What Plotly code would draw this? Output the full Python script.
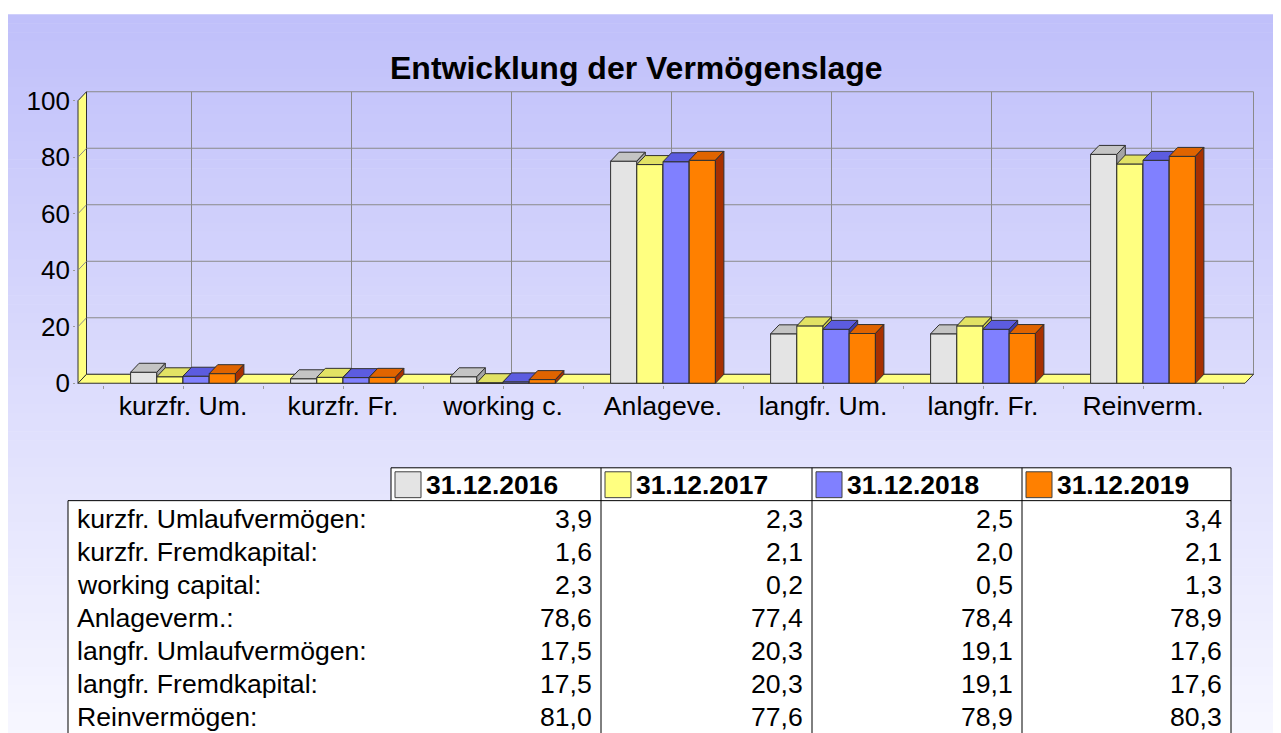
import plotly.graph_objects as go

# ---------------- data ----------------
categories = ["kurzfr. Um.", "kurzfr. Fr.", "working c.", "Anlageve.",
              "langfr. Um.", "langfr. Fr.", "Reinverm."]
row_labels = ["kurzfr. Umlaufvermögen:", "kurzfr. Fremdkapital:", "working capital:",
              "Anlageverm.:", "langfr. Umlaufvermögen:", "langfr. Fremdkapital:",
              "Reinvermögen:"]
series_names = ["31.12.2016", "31.12.2017", "31.12.2018", "31.12.2019"]
v2016 = [3.9, 1.6, 2.3, 78.6, 17.5, 17.5, 81.0]
v2017 = [2.3, 2.1, 0.2, 77.4, 20.3, 20.3, 77.6]
v2018 = [2.5, 2.0, 0.5, 78.4, 19.1, 19.1, 78.9]
v2019 = [3.4, 2.1, 1.3, 78.9, 17.6, 17.6, 80.3]
y_ticks = [0, 20, 40, 60, 80, 100]
title = "Entwicklung der Vermögenslage"

series_values = [v2016, v2017, v2018, v2019]
# (front, top, side) colours per series
series_colors = [
    ("#e4e4e4", "#c4c4c4", "#a4a4a4"),
    ("#ffff80", "#e2e264", "#c4c448"),
    ("#8080ff", "#5c5ce0", "#3c3cb4"),
    ("#ff8000", "#e06400", "#a83000"),
]

# ---------------- geometry ----------------
# positions below are given in target-image pixels; K maps them to page pixels
PAGE_W, PAGE_H = 1281, 733
K = 0.982
OX, OY = 8, 8                      # default page body margin
W = PAGE_W - OX + 16
H = int(round(PAGE_H / K)) - OY + 1
FONT = "Liberation Sans, Arial, sans-serif"
CX0, CPX = 183.0, 160.0      # px of category 0, px per category
Y0PX, YPX = 381.0, 2.84      # px of y=0, px per unit
DX = 8.5 / CPX               # 3D depth in data units
DY = 9.0 / YPX
X_MIN = (78 - CX0) / CPX
X_FRONT_MAX = (1245 - CX0) / CPX
Y_TOP = 100.0
BAR_W = 26.2 / CPX
GROUP_W = BAR_W * len(series_values)

xa, xb = X_MIN - 0.012, X_FRONT_MAX + DX + 0.012
ya, yb = -0.6, Y_TOP + DY + 0.6


def xpx(x):
    return CX0 + CPX * x


def ypx(y):
    return Y0PX - YPX * y


def fx(px):
    return (px - OX) / W


def fy(py):
    return 1 - (py / K - OY) / H


x_domain = [fx(xpx(xa)), fx(xpx(xb))]
y_domain = [fy(ypx(ya)), fy(ypx(yb))]

fig = go.Figure()


def poly(xs, ys, fill, line="#303030", width=1):
    fig.add_trace(go.Scatter(
        x=list(xs) + [xs[0]], y=list(ys) + [ys[0]], mode="lines",
        fill="toself", fillcolor=fill, line=dict(color=line, width=width),
        hoverinfo="skip", showlegend=False))


def lines(segs, color="#8a8a8a", width=1):
    xs, ys = [], []
    for (x1, y1, x2, y2) in segs:
        xs += [x1, x2, None]
        ys += [y1, y2, None]
    fig.add_trace(go.Scatter(x=xs, y=ys, mode="lines",
                             line=dict(color=color, width=width),
                             hoverinfo="skip", showlegend=False))


# back wall grid
segs = []
for v in y_ticks:
    segs.append((X_MIN + DX, v + DY, X_FRONT_MAX + DX, v + DY))
for i in range(len(categories)):
    segs.append((i + DX, DY, i + DX, Y_TOP + DY))
segs.append((X_FRONT_MAX + DX, DY, X_FRONT_MAX + DX, Y_TOP + DY))
lines(segs)

# left wall
poly([X_MIN, X_MIN, X_MIN + DX, X_MIN + DX], [0, Y_TOP, Y_TOP + DY, DY], "#ffff80")
lines([(X_MIN, v, X_MIN + DX, v + DY) for v in y_ticks[1:-1]], color="#8a8a8a")
# floor
poly([X_MIN, X_FRONT_MAX, X_FRONT_MAX + DX, X_MIN + DX], [0, 0, DY, DY], "#ffff80")

# bars (painter's order, left to right)
for i in range(len(categories)):
    for j, vals in enumerate(series_values):
        h = vals[i]
        front, top, side = series_colors[j]
        x0 = i - GROUP_W / 2 + j * BAR_W
        x1 = x0 + BAR_W
        poly([x0, x1, x1, x0], [0, 0, h, h], front)
        poly([x0, x1, x1 + DX, x0 + DX], [h, h, h + DY, h + DY], top)
        poly([x1, x1 + DX, x1 + DX, x1], [0, DY, h + DY, h], side)

# ---------------- background gradient ----------------
shapes = []
top_c = (192, 192, 250)
bot_c = (247, 247, 255)
N = 80
y_start = 10
for k in range(N):
    t = k / (N - 1)
    c = tuple(round(top_c[m] + (bot_c[m] - top_c[m]) * t) for m in range(3))
    py0 = y_start + (PAGE_H + 6 - y_start) * k / N
    py1 = y_start + (PAGE_H + 6 - y_start) * (k + 1) / N + 0.6
    shapes.append(dict(type="rect", xref="paper", yref="paper",
                       x0=0, x1=1, y0=max(0, fy(py1)), y1=min(1, fy(py0)),
                       fillcolor="rgb(%d,%d,%d)" % c, line=dict(width=0),
                       layer="below"))

# ---------------- table ----------------
annotations = []


def hline(px0, px1, py):
    shapes.append(dict(type="line", xref="paper", yref="paper",
                       x0=fx(px0), x1=fx(px1), y0=fy(py), y1=fy(py),
                       line=dict(color="#000000", width=1)))


def vline(px, py0, py1):
    shapes.append(dict(type="line", xref="paper", yref="paper",
                       x0=fx(px), x1=fx(px), y0=fy(py0), y1=max(0, fy(py1)),
                       line=dict(color="#000000", width=1)))


col_edges = [391, 601, 812, 1022, 1231]
head_top, head_bot = 466, 499
table_left = 68
row_y0, row_h = 517, 33.3
BODY_FS = 26.6

# table background (white)
shapes.append(dict(type="rect", xref="paper", yref="paper",
                   x0=fx(391), x1=fx(1231), y0=fy(head_bot), y1=fy(head_top),
                   fillcolor="#ffffff", line=dict(width=0), layer="below"))
shapes.append(dict(type="rect", xref="paper", yref="paper",
                   x0=fx(table_left), x1=fx(1231), y0=0, y1=fy(head_bot),
                   fillcolor="#ffffff", line=dict(width=0), layer="below"))

hline(col_edges[0], col_edges[-1], head_top)
hline(table_left, col_edges[-1], head_bot)
vline(col_edges[0], head_top, head_bot)
for e in col_edges[1:]:
    vline(e, head_top, PAGE_H + 20)
vline(table_left, head_bot, PAGE_H + 20)

for j, name in enumerate(series_names):
    cx = col_edges[j]
    front = series_colors[j][0]
    shapes.append(dict(type="rect", xref="paper", yref="paper",
                       x0=fx(cx + 4), x1=fx(cx + 30),
                       y0=fy(496), y1=fy(470),
                       fillcolor=front, line=dict(color="#404040", width=1)))
    annotations.append(dict(text="<b>%s</b>" % name, x=fx(cx + 33), y=fy(483),
                            xref="paper", yref="paper",
                            xanchor="left", yanchor="middle", showarrow=False,
                            font=dict(family=FONT, size=26.4, color="#000000")))

for r, lab in enumerate(row_labels):
    py = row_y0 + r * row_h
    annotations.append(dict(text=lab, x=fx(75), y=fy(py), xref="paper", yref="paper",
                            xanchor="left", yanchor="middle", showarrow=False,
                            font=dict(family=FONT, size=BODY_FS, color="#000000")))
    for j, vals in enumerate(series_values):
        annotations.append(dict(text=("%.1f" % vals[r]).replace(".", ","),
                                x=fx(col_edges[j + 1] - 7), y=fy(py),
                                xref="paper", yref="paper",
                                xanchor="right", yanchor="middle", showarrow=False,
                                font=dict(family=FONT, size=BODY_FS, color="#000000")))

# title
annotations.append(dict(text="<b>%s</b>" % title, x=fx(636), y=fy(64),
                        xref="paper", yref="paper",
                        xanchor="center", yanchor="middle", showarrow=False,
                        font=dict(family=FONT, size=32, color="#000000")))

fig.update_layout(
    width=W, height=H, margin=dict(l=0, r=0, t=0, b=0),
    paper_bgcolor="#ffffff", plot_bgcolor="rgba(0,0,0,0)",
    showlegend=False, shapes=shapes, annotations=annotations,
    font=dict(family=FONT, color="#000000"),
    xaxis=dict(domain=x_domain, range=[xa, xb], showgrid=False, zeroline=False,
               showline=False, tickmode="array",
               tickvals=list(range(len(categories))), ticktext=categories,
               ticks="outside", ticklen=3, tickcolor="#9a9a9a",
               ticklabelstandoff=-6,
               minor=dict(ticks="outside", ticklen=3, tickcolor="#9a9a9a",
                          tickmode="array",
                          tickvals=[i + 0.5 for i in range(-1, len(categories))]),
               tickfont=dict(family=FONT, size=26.6, color="#000000"),
               fixedrange=True),
    yaxis=dict(domain=y_domain, range=[ya, yb], showgrid=False, zeroline=False,
               showline=False, tickmode="array", tickvals=y_ticks,
               ticks="outside", ticklen=2, tickcolor="#9a9a9a",
               ticklabelstandoff=-2,
               tickfont=dict(family=FONT, size=26, color="#000000"),
               fixedrange=True),
)

fig.write_html("out.html")
